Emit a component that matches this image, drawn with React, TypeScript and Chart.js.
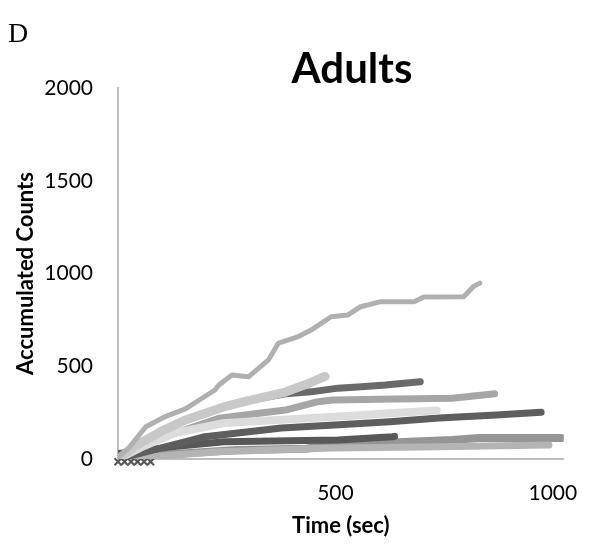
import React, { useEffect, useRef } from "react";
import { Chart, registerables } from "chart.js";

Chart.register(...registerables);

// Tick labels
const xTickValues = [0, 500, 1000];
const yTickValues = [0, 500, 1000, 1500, 2000];

// Series: [time (sec), accumulated counts]
const seriesA: [number, number][] = [
  [0, 10], [25, 60], [64, 174], [110, 230], [155, 270], [187, 318], [223, 372],
  [232, 399], [262, 453], [300, 443], [346, 534], [369, 625], [415, 660],
  [444, 695], [490, 767], [528, 776], [558, 821], [604, 848], [681, 848],
  [703, 873], [795, 875], [817, 929], [832, 948],
];
const seriesB: [number, number][] = [
  [0, 0], [40, 70], [100, 150], [155, 210], [245, 282], [300, 315],
  [385, 361], [430, 400], [476, 445],
];
const seriesC: [number, number][] = [
  [0, 0], [40, 70], [100, 150], [155, 210], [245, 282], [300, 315],
  [385, 352], [444, 362], [506, 382], [560, 390], [615, 399], [695, 417],
];
const seriesD: [number, number][] = [
  [0, 0], [50, 60], [120, 130], [232, 220], [385, 264], [460, 309],
  [494, 318], [600, 322], [768, 328], [802, 336], [866, 352],
];
const seriesE: [number, number][] = [
  [0, 0], [60, 70], [130, 140], [245, 194], [498, 228], [625, 247], [733, 262],
];
const seriesF: [number, number][] = [
  [0, 0], [100, 60], [200, 120], [376, 167], [498, 183], [625, 201],
  [738, 221], [870, 237], [973, 252],
];
const seriesG: [number, number][] = [
  [0, 30], [60, 45], [123, 66], [244, 93], [506, 102], [631, 120], [636, 122],
];
const seriesH: [number, number][] = [
  [0, 0], [120, 25], [273, 48], [432, 55], [494, 75], [670, 93],
  [768, 102], [831, 113], [1020, 113],
];
const seriesI: [number, number][] = [
  [0, 0], [232, 39], [494, 59], [700, 65], [991, 75],
];
const seriesJ: [number, number][] = [
  [0, -15], [15, -15], [30, -15], [45, -15], [60, -15], [75, -15],
];

const toPts = (s: [number, number][]) => s.map(([x, y]) => ({ x, y }));

const textPlugin = {
  id: "panelTexts",
  afterDraw(chart: any) {
    const ctx = chart.ctx;
    ctx.save();
    ctx.fillStyle = "#000";
    ctx.textBaseline = "alphabetic";
    ctx.textAlign = "left";
    ctx.font = '28px "Liberation Serif"';
    ctx.fillText("D", 8, 42);
    ctx.textAlign = "center";
    ctx.font = 'bold 42px Lato';
    ctx.fillText("Adults", 352, 83);
    ctx.restore();
  },
};

export default function App() {
  const ref = useRef<HTMLCanvasElement | null>(null);
  useEffect(() => {
    if (!ref.current) return;
    const line = (data: [number, number][], color: string, width = 6) => ({
      data: toPts(data),
      borderColor: color,
      backgroundColor: color,
      borderWidth: width,
      pointRadius: 0,
      tension: 0,
      fill: false,
      borderJoinStyle: "round",
      borderCapStyle: "round",
    });
    const chart = new Chart(ref.current, {
      type: "line",
      data: {
        datasets: [
          line(seriesA, "#b0b0b0", 5),
          line(seriesB, "#c8c8c8", 9),
          line(seriesE, "#dcdcdc", 8),
          line(seriesD, "#a6a6a6", 7),
          line(seriesC, "#6a6a6a", 7),
          line(seriesF, "#5e5e5e", 7),
          line(seriesG, "#585858", 7),
          line(seriesI, "#b4b4b4", 7),
          line(seriesH, "#959595", 8),
          {
            data: toPts(seriesJ),
            borderColor: "#555555",
            backgroundColor: "#555555",
            borderWidth: 2,
            pointStyle: "crossRot",
            pointRadius: 5,
            pointBorderWidth: 2,
            showLine: false,
            clip: false,
          } as any,
        ],
      },
      options: {
        responsive: false,
        animation: false,
        layout: { padding: { top: 88, right: 32, bottom: 0, left: 0 } },
        plugins: {
          legend: { display: false },
          tooltip: { enabled: false },
          title: { display: false },
        },
        scales: {
          x: {
            type: "linear",
            min: 0,
            max: 1025,
            afterBuildTicks: (s: any) => {
              s.ticks = xTickValues.map((v) => ({ value: v }));
            },
            afterFit: (s: any) => {
              s.height = 93;
            },
            ticks: {
              callback: (v: any) => (v === 0 ? "" : String(v)),
              font: { family: "Lato", size: 21 },
              color: "#000",
              padding: 22,
              maxRotation: 0,
              autoSkip: false,
            },
            grid: { display: false, drawTicks: false },
            border: { display: true, color: "#bdbdbd", width: 2 },
            title: {
              display: true,
              text: "Time (sec)",
              color: "#000",
              font: { family: "Lato", size: 22, weight: "bold" },
              padding: { top: 0, bottom: 13 },
            },
          },
          y: {
            type: "linear",
            min: 0,
            max: 2000,
            afterBuildTicks: (s: any) => {
              s.ticks = yTickValues.map((v) => ({ value: v }));
            },
            afterFit: (s: any) => {
              s.width = 118;
            },
            ticks: {
              callback: (v: any) => String(v),
              font: { family: "Lato", size: 21 },
              color: "#000",
              padding: 25,
            },
            grid: { display: false, drawTicks: false },
            border: { display: true, color: "#bdbdbd", width: 2 },
            title: {
              display: true,
              text: "Accumulated Counts",
              color: "#000",
              font: { family: "Lato", size: 22, weight: "bold" },
              padding: { top: 13, bottom: 0 },
            },
          },
        },
      },
      plugins: [textPlugin],
    } as any);
    return () => chart.destroy();
  }, []);
  return (
    <div style={{ position: "absolute", left: 0, top: 0, width: 600, height: 552, background: "#fff" }}>
      <canvas ref={ref} width={600} height={552} style={{ display: "block" }} />
    </div>
  );
}
